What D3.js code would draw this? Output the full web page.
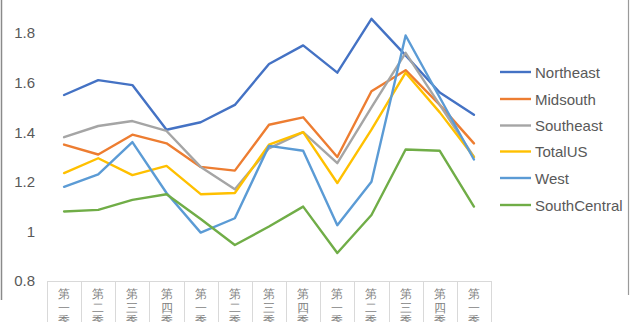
<!DOCTYPE html>
<html>
<head>
<meta charset="utf-8">
<script src="https://cdn.jsdelivr.net/npm/d3@7"></script>
<style>
  html, body { margin: 0; padding: 0; background: #fff; }
  svg { display: block; }
  text { font-family: "Liberation Sans", Arial, sans-serif; }
</style>
</head>
<body>
<svg id="chart" width="631" height="322"></svg>
<script>
// Quarter labels along the x axis
const quarterLabels = ["第一季", "第二季", "第三季", "第四季", "第一季", "第二季", "第三季",
                       "第四季", "第一季", "第二季", "第三季", "第四季", "第一季"];

// Regional index values per quarter
const northeast    = [1.55, 1.61, 1.59, 1.41, 1.44, 1.51, 1.675, 1.75, 1.64, 1.857, 1.71, 1.56, 1.47];
const midsouth     = [1.35, 1.31, 1.39, 1.355, 1.26, 1.245, 1.43, 1.46, 1.30, 1.565, 1.65, 1.51, 1.355];
const southeast    = [1.38, 1.425, 1.445, 1.405, 1.26, 1.17, 1.335, 1.40, 1.275, 1.50, 1.72, 1.51, 1.30];
const totalUS      = [1.235, 1.295, 1.227, 1.264, 1.15, 1.155, 1.35, 1.40, 1.195, 1.41, 1.64, 1.48, 1.30];
const west         = [1.18, 1.23, 1.36, 1.155, 0.995, 1.053, 1.345, 1.325, 1.025, 1.20, 1.79, 1.54, 1.29];
const southCentral = [1.08, 1.087, 1.127, 1.15, 1.05, 0.945, 1.02, 1.10, 0.913, 1.066, 1.33, 1.325, 1.10];

const seriesNames = ["Northeast", "Midsouth", "Southeast", "TotalUS", "West", "SouthCentral"];
const yTicks = [0.8, 1, 1.2, 1.4, 1.6, 1.8];

const series = [
  { name: seriesNames[0], values: northeast,    color: "#4472C4" },
  { name: seriesNames[1], values: midsouth,     color: "#ED7D31" },
  { name: seriesNames[2], values: southeast,    color: "#A5A5A5" },
  { name: seriesNames[3], values: totalUS,      color: "#FFC000" },
  { name: seriesNames[4], values: west,         color: "#5B9BD5" },
  { name: seriesNames[5], values: southCentral, color: "#70AD47" }
];

const svg = d3.select("#chart");

const plot = { left: 47, right: 491, top: 33, bottom: 281 };

const x = d3.scaleBand()
  .domain(d3.range(quarterLabels.length))
  .range([plot.left, plot.right])
  .padding(0);

const y = d3.scaleLinear()
  .domain([0.8, 1.8])
  .range([plot.bottom, plot.top]);

// Outer frame edges
svg.append("line")
  .attr("x1", 1.5).attr("x2", 1.5).attr("y1", 0).attr("y2", 300)
  .attr("stroke", "#8a8a8a").attr("stroke-width", 1.5);
svg.append("line")
  .attr("x1", 628.5).attr("x2", 628.5).attr("y1", 0).attr("y2", 295)
  .attr("stroke", "#9a9a9a").attr("stroke-width", 1.2);

// Y axis labels
const yAxis = d3.axisLeft(y)
  .tickValues(yTicks)
  .tickFormat(d3.format("~g"))
  .tickSize(0)
  .tickPadding(0);

const yg = svg.append("g")
  .attr("transform", `translate(35,0)`)
  .call(yAxis);
yg.select(".domain").remove();
yg.selectAll("text")
  .attr("font-size", 15)
  .attr("fill", "#595959")
  .attr("font-family", "'Liberation Sans', Arial, sans-serif");

// Category axis: baseline, separators and vertical labels
svg.append("line")
  .attr("x1", plot.left).attr("x2", plot.right)
  .attr("y1", plot.bottom + 0.5).attr("y2", plot.bottom + 0.5)
  .attr("stroke", "#d9d9d9").attr("stroke-width", 1);

const bounds = d3.range(quarterLabels.length + 1).map(i =>
  i < quarterLabels.length ? x(i) : x(quarterLabels.length - 1) + x.bandwidth());

svg.append("g").selectAll("line")
  .data(bounds)
  .join("line")
  .attr("x1", d => Math.round(d) + 0.5)
  .attr("x2", d => Math.round(d) + 0.5)
  .attr("y1", plot.bottom)
  .attr("y2", 322)
  .attr("stroke", "#d9d9d9")
  .attr("stroke-width", 1);

const catG = svg.append("g");
quarterLabels.forEach((label, i) => {
  const cx = x(i) + x.bandwidth() / 2;
  const t = catG.append("text")
    .attr("x", cx)
    .attr("y", 298)
    .attr("text-anchor", "middle")
    .attr("font-size", 12)
    .attr("fill", "#7f7f7f")
    .attr("font-family", "'Noto Sans CJK SC', sans-serif");
  Array.from(label).forEach((ch, k) => {
    t.append("tspan")
      .attr("x", cx)
      .attr("y", 298 + k * 13.5)
      .text(ch);
  });
});

// Lines
const line = d3.line()
  .x((d, i) => x(i) + x.bandwidth() / 2)
  .y(d => y(d));

svg.append("g")
  .selectAll("path")
  .data(series)
  .join("path")
  .attr("d", d => line(d.values))
  .attr("fill", "none")
  .attr("stroke", d => d.color)
  .attr("stroke-width", 2.4)
  .attr("stroke-linejoin", "round")
  .attr("stroke-linecap", "round");

// Legend
const legend = svg.append("g");
const legendY = [72, 99, 125.5, 151.5, 178, 205];
series.forEach((s, i) => {
  const g = legend.append("g").attr("transform", `translate(0,${legendY[i]})`);
  g.append("line")
    .attr("x1", 500).attr("x2", 531)
    .attr("y1", 0).attr("y2", 0)
    .attr("stroke", s.color)
    .attr("stroke-width", 2.4);
  g.append("text")
    .attr("x", 535)
    .attr("y", 5.5)
    .attr("font-size", 15)
    .attr("fill", "#595959")
    .text(s.name);
});
</script>
</body>
</html>
